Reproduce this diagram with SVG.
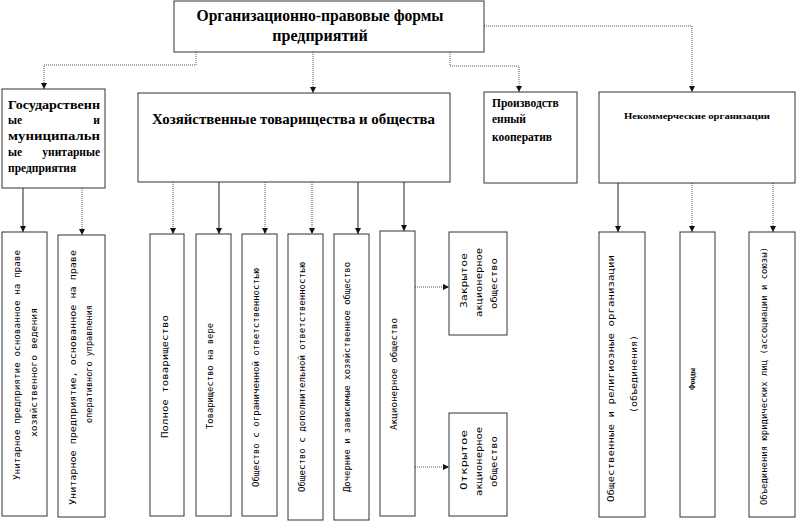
<svg xmlns="http://www.w3.org/2000/svg" width="800" height="524" viewBox="0 0 800 524">
<defs>
<marker id="ah" markerWidth="6" markerHeight="6" refX="6" refY="3" orient="auto" markerUnits="userSpaceOnUse"><path d="M0,0 L6,3 L0,6 z" fill="#111"/></marker>
<style>
.box{fill:#fff;stroke:#333;stroke-width:1}
.solid{fill:none;stroke:#222;stroke-width:1}
.dot{fill:none;stroke:#555;stroke-width:1;stroke-dasharray:1,1}
.ttl{font-family:"Liberation Serif","Times New Roman",serif;font-weight:bold;fill:#000}
.v{font-family:"DejaVu Sans Mono","Liberation Mono",monospace;font-size:9.3px;fill:#000}
</style>
</defs>
<rect width="800" height="524" fill="#fff"/>

<g id="connectors">
<path class="dot" d="M196,52 V65 H44 V89" marker-end="url(#ah)"/>
<path class="dot" d="M313,52 V93" marker-end="url(#ah)"/>
<path class="dot" d="M450,52 V66 H519 V92" marker-end="url(#ah)"/>
<path class="dot" d="M484,26 H692 V92" marker-end="url(#ah)"/>
<path class="solid" d="M23,188 V232" marker-end="url(#ah)"/>
<path class="dot" d="M82,188 V235" marker-end="url(#ah)"/>
<path class="dot" d="M173,182 V234" marker-end="url(#ah)"/>
<path class="solid" d="M219,182 V234" marker-end="url(#ah)"/>
<path class="dot" d="M265,182 V234" marker-end="url(#ah)"/>
<path class="dot" d="M312,182 V234" marker-end="url(#ah)"/>
<path class="solid" d="M358,182 V234" marker-end="url(#ah)"/>
<path class="solid" d="M404,182 V231" marker-end="url(#ah)"/>
<path class="dot" d="M415,287 H449" marker-end="url(#ah)"/>
<path class="dot" d="M415,467 H449" marker-end="url(#ah)"/>
<path class="solid" d="M618,183 V232" marker-end="url(#ah)"/>
<path class="dot" d="M692,183 V232" marker-end="url(#ah)"/>
<path class="dot" d="M773,183 V232" marker-end="url(#ah)"/>
</g>

<g id="root">
<rect class="box" x="174" y="1" width="310" height="51"/>
<text class="ttl" x="320" y="21" font-size="16" text-anchor="middle" textLength="247" lengthAdjust="spacingAndGlyphs">Организационно-правовые формы</text>
<text class="ttl" x="320" y="41" font-size="16" text-anchor="middle">предприятий</text>
</g>

<g id="gos">
<rect class="box" x="2" y="89" width="103" height="99"/>
<text class="ttl" font-size="11.5" x="8" y="109" textLength="92" lengthAdjust="spacingAndGlyphs">Государственн</text>
<text class="ttl" font-size="11.5" x="8" y="124">ые</text>
<text class="ttl" font-size="11.5" x="100" y="124" text-anchor="end">и</text>
<text class="ttl" font-size="11.5" x="8" y="140" textLength="92" lengthAdjust="spacingAndGlyphs">муниципальн</text>
<text class="ttl" font-size="11.5" x="8" y="156">ые</text>
<text class="ttl" font-size="11.5" x="100" y="156" text-anchor="end">унитарные</text>
<text class="ttl" font-size="11.5" x="8" y="172">предприятия</text>
</g>

<g id="hoz">
<rect class="box" x="138" y="93" width="312" height="89"/>
<text class="ttl" font-size="15" x="152" y="124" textLength="283" lengthAdjust="spacingAndGlyphs">Хозяйственные товарищества и общества</text>
</g>

<g id="proizv">
<rect class="box" x="484" y="92" width="93" height="91"/>
<text class="ttl" font-size="11.5" x="492" y="107">Производств</text>
<text class="ttl" font-size="11.5" x="492" y="123">енный</text>
<text class="ttl" font-size="11.5" x="492" y="141">кооператив</text>
</g>

<g id="nekomm">
<rect class="box" x="599" y="92" width="196" height="91"/>
<text class="ttl" font-size="9" x="624" y="119" textLength="146" lengthAdjust="spacingAndGlyphs">Некоммерческие организации</text>
</g>

<g id="b1">
<rect class="box" x="2" y="232" width="45" height="284"/>
<text class="v" font-size="9.4" transform="translate(20,480) rotate(-90)" textLength="230" lengthAdjust="spacingAndGlyphs">Унитарное предприятие основанное на праве</text>
<text class="v" font-size="9.8" transform="translate(37,437) rotate(-90)" textLength="129" lengthAdjust="spacingAndGlyphs">хозяйственного ведения</text>
</g>

<g id="b2">
<rect class="box" x="58" y="235" width="47" height="282"/>
<text class="v" font-size="10" transform="translate(76,505) rotate(-90)" textLength="255" lengthAdjust="spacingAndGlyphs">Унитарное предприятие, основанное на праве</text>
<text class="v" font-size="9" transform="translate(92,423) rotate(-90)" textLength="118" lengthAdjust="spacingAndGlyphs">оперативного управления</text>
</g>

<g id="b3">
<rect class="box" x="150" y="234" width="34" height="282"/>
<text class="v" font-size="10.8" transform="translate(168,438) rotate(-90)" textLength="123" lengthAdjust="spacingAndGlyphs">Полное товарищество</text>
</g>

<g id="b4">
<rect class="box" x="196" y="234" width="35" height="282"/>
<text class="v" font-size="8.8" transform="translate(213,429) rotate(-90)" textLength="106" lengthAdjust="spacingAndGlyphs">Товарищество на вере</text>
</g>

<g id="b5">
<rect class="box" x="242" y="234" width="35" height="282"/>
<text class="v" font-size="9.1" transform="translate(259,487) rotate(-90)" textLength="219" lengthAdjust="spacingAndGlyphs">Общество с ограниченной ответственностью</text>
</g>

<g id="b6">
<rect class="box" x="288" y="234" width="35" height="286"/>
<text class="v" font-size="9.1" transform="translate(305,492) rotate(-90)" textLength="230" lengthAdjust="spacingAndGlyphs">Общество с дополнительной ответственностью</text>
</g>

<g id="b7">
<rect class="box" x="334" y="234" width="35" height="286"/>
<text class="v" font-size="8.9" transform="translate(350,492) rotate(-90)" textLength="230" lengthAdjust="spacingAndGlyphs">Дочерние и зависимые хозяйственное общество</text>
</g>

<g id="b8">
<rect class="box" x="380" y="231" width="35" height="285"/>
<text class="v" font-size="9.3" transform="translate(397,430) rotate(-90)" textLength="112" lengthAdjust="spacingAndGlyphs">Акционерное общество</text>
</g>

<g id="zao">
<rect class="box" x="449" y="232" width="58" height="103"/>
<text class="v" font-size="11" transform="translate(467,308) rotate(-90)" textLength="55" lengthAdjust="spacingAndGlyphs">Закрытое</text>
<text class="v" font-size="10.5" transform="translate(482,317) rotate(-90)" textLength="69" lengthAdjust="spacingAndGlyphs">акционерное</text>
<text class="v" font-size="10.6" transform="translate(497,309) rotate(-90)" textLength="51" lengthAdjust="spacingAndGlyphs">общество</text>
</g>

<g id="oao">
<rect class="box" x="449" y="413" width="58" height="103"/>
<text class="v" font-size="11.5" transform="translate(467,490) rotate(-90)" textLength="60" lengthAdjust="spacingAndGlyphs">Открытое</text>
<text class="v" font-size="10.5" transform="translate(482,496) rotate(-90)" textLength="69" lengthAdjust="spacingAndGlyphs">акционерное</text>
<text class="v" font-size="10.6" transform="translate(497,487) rotate(-90)" textLength="51" lengthAdjust="spacingAndGlyphs">общество</text>
</g>

<g id="obsch">
<rect class="box" x="599" y="232" width="46" height="285"/>
<text class="v" font-size="10.8" transform="translate(614,502) rotate(-90)" textLength="247" lengthAdjust="spacingAndGlyphs">Общественные и религиозные организации</text>
<text class="v" font-size="10" transform="translate(637,413) rotate(-90)" textLength="78" lengthAdjust="spacingAndGlyphs">(объединения)</text>
</g>

<g id="fondy">
<rect class="box" x="680" y="232" width="35" height="285"/>
<text class="ttl" font-size="8" transform="translate(695,390) rotate(-90)" textLength="22" lengthAdjust="spacingAndGlyphs">Фонды</text>
</g>

<g id="obyed">
<rect class="box" x="749" y="232" width="46" height="285"/>
<text class="v" font-size="9" transform="translate(767,505) rotate(-90)" textLength="258" lengthAdjust="spacingAndGlyphs">Объединения юридических лиц (ассоциации и союзы)</text>
</g>
</svg>
